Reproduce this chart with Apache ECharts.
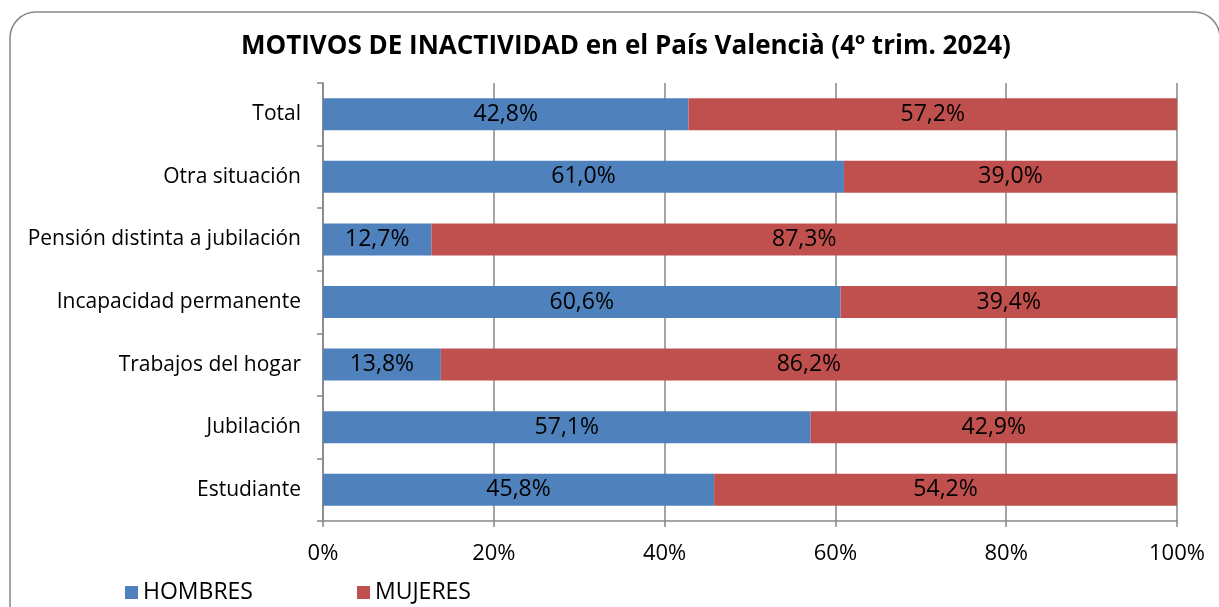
<!DOCTYPE html>
<html>
<head>
<meta charset="utf-8">
<script src="https://cdn.jsdelivr.net/npm/echarts@6/dist/echarts.min.js"></script>
<style>
  html, body { margin: 0; padding: 0; background: #fff; }
  #chart { width: 1219px; height: 607px; }
</style>
</head>
<body>
<div id="chart"></div>
<script>
// categories from bottom to top
const categories = ['Estudiante', 'Jubilación', 'Trabajos del hogar', 'Incapacidad permanente',
  'Pensión distinta a jubilación', 'Otra situación', 'Total']
const hombres = [45.8, 57.1, 13.8, 60.6, 12.7, 61.0, 42.8]
const mujeres = [54.2, 42.9, 86.2, 39.4, 87.3, 39.0, 57.2]
const xTicks = [0, 20, 40, 60, 80, 100]

const font = 'Open Sans, sans-serif'
const chart = echarts.init(document.getElementById('chart'))

const labelFmt = p => p.value.toFixed(1).replace('.', ',') + '%'

chart.setOption({
  animation: false,
  textStyle: { fontFamily: font },
  title: {
    text: 'MOTIVOS DE INACTIVIDAD en el País Valencià (4º trim. 2024)',
    left: 236,
    top: 29,
    textStyle: { fontSize: 26, fontWeight: 'bold', color: '#000', fontFamily: font }
  },
  graphic: [{
    type: 'rect',
    shape: { x: 10, y: 12, width: 1210, height: 620, r: 26 },
    style: { fill: 'none', stroke: '#888', lineWidth: 1.5 },
    z: -10
  }],
  legend: {
    left: 120,
    top: 576,
    itemWidth: 13,
    itemHeight: 13,
    itemGap: 104,
    icon: 'rect',
    textStyle: { fontSize: 23, color: '#000', fontFamily: font },
    data: ['HOMBRES', 'MUJERES']
  },
  grid: { left: 323, right: 42, top: 83, bottom: 86, containLabel: false },
  xAxis: {
    type: 'value',
    min: 0,
    max: 100,
    interval: 20,
    axisLine: { show: true, lineStyle: { color: '#868686', width: 1.5 } },
    axisTick: { show: true, length: 6, lineStyle: { color: '#868686', width: 1.5 } },
    splitLine: { show: true, lineStyle: { color: '#868686', width: 1.5 } },
    axisLabel: {
      fontSize: 22, color: '#000', margin: 22, fontFamily: font,
      formatter: v => xTicks.includes(v) ? v + '%' : ''
    }
  },
  yAxis: {
    type: 'category',
    data: categories,
    axisLine: { show: true, lineStyle: { color: '#868686', width: 1.5 } },
    axisTick: { show: true, length: 6, lineStyle: { color: '#868686', width: 1.5 } },
    axisLabel: { fontSize: 21, color: '#000', margin: 22, fontFamily: font }
  },
  series: [
    {
      name: 'HOMBRES',
      type: 'bar',
      stack: 'total',
      data: hombres,
      barWidth: 32,
      itemStyle: { color: '#4f81bd' },
      label: { show: true, position: 'inside', fontSize: 23, color: '#000', fontFamily: font, formatter: labelFmt }
    },
    {
      name: 'MUJERES',
      type: 'bar',
      stack: 'total',
      data: mujeres,
      barWidth: 32,
      itemStyle: { color: '#c0504d' },
      label: { show: true, position: 'inside', fontSize: 23, color: '#000', fontFamily: font, formatter: labelFmt }
    }
  ]
})
</script>
</body>
</html>
